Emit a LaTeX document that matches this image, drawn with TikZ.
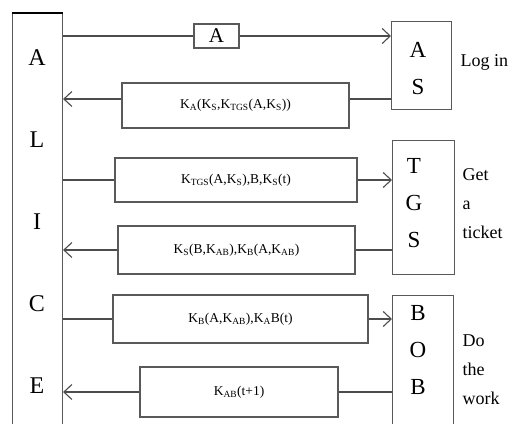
\documentclass[tikz,border=0pt]{standalone}
\usepackage{fontspec}
\setmainfont{Liberation Serif}
\usetikzlibrary{arrows.meta, positioning}
\newcommand{\kk}[1]{K\textsubscript{#1}}

\begin{document}
\begin{tikzpicture}[x=1pt, y=-1pt, >={Straight Barb[length=8pt, width=15pt]}]
  \tikzstyle{box}=[draw=black!65, line width=1.1pt, inner sep=0pt]
  \tikzstyle{msg}=[box, font=\fontsize{13.5}{15}\selectfont]
  \tikzstyle{link}=[draw=black!70, line width=1.1pt]
  \tikzstyle{who}=[font=\fontsize{24}{82}\selectfont, align=center]
  \tikzstyle{srv}=[font=\fontsize{23}{37}\selectfont, align=center]
  \tikzstyle{note}=[font=\fontsize{18}{29}\selectfont, align=left, anchor=west]

  \useasboundingbox (0,0) rectangle (513,423);
  \clip (0,0) rectangle (513,423);

  % Alice on the left
  \node[box, minimum width=50pt, minimum height=425pt, anchor=north west] (alice) at (12,13) {};
  \draw[line width=2.5pt] (alice.north west) -- (alice.north east);
  \node[who] (alicetxt) at (37,222) {A\\L\\I\\C\\E};

  % servers on the right
  \node[box, minimum width=60pt, minimum height=88pt, anchor=north west] (as) at (391,21) {};
  \node[srv] (astxt) at (418,69) {A\\S};
  \node[box, minimum width=62pt, minimum height=134pt, anchor=north west] (tgs) at (392,140) {};
  \node[srv] (tgstxt) at (414,203) {T\\G\\S};
  \node[box, minimum width=61pt, minimum height=140pt, anchor=north west] (bob) at (392,295) {};
  \node[srv] (bobtxt) at (418,350) {B\\O\\B};

  \node[note] (login) at (457,62) {Log in};
  \node[note] (ticket) at (459,204) {Get\\a\\ticket};
  \node[note] (work) at (459,370) {Do\\the\\work};

  % messages
  \node[box, minimum width=45pt, minimum height=24pt, font=\fontsize{21}{21}\selectfont] (ma) at (216.5,36) {A};
  \node[msg, minimum width=227pt, minimum height=45pt] (m1) at (235.5,105.5) {\kk{A}(\kk{S},\kk{TGS}(A,\kk{S}))};
  \node[msg, minimum width=242pt, minimum height=44pt] (m2) at (236,180) {\kk{TGS}(A,\kk{S}),B,\kk{S}(t)};
  \node[msg, minimum width=237pt, minimum height=48pt] (m3) at (236.5,250) {\kk{S}(B,\kk{AB}),\kk{B}(A,\kk{AB})};
  \node[msg, minimum width=255pt, minimum height=48pt] (m4) at (240.5,319) {\kk{B}(A,\kk{AB}),\kk{A}B(t)};
  \node[msg, minimum width=198pt, minimum height=50pt] (m5) at (239,392) {\kk{AB}(t+1)};

  \coordinate (m1l) at ([yshift=6.5pt]m1.west);
  \coordinate (m1r) at ([yshift=6.5pt]m1.east);

  % log in
  \draw[link] (alice.east |- ma.west) -- (ma.west);
  \draw[link, ->] (ma.east) -- (as.west |- ma.east);
  \draw[link] (as.west |- m1r) -- (m1r);
  \draw[link, ->] (m1l) -- (alice.east |- m1l);

  % get a ticket
  \draw[link] (alice.east |- m2.west) -- (m2.west);
  \draw[link, ->] (m2.east) -- (tgs.west |- m2.east);
  \draw[link] (tgs.west |- m3.east) -- (m3.east);
  \draw[link, ->] (m3.west) -- (alice.east |- m3.west);

  % do the work
  \draw[link] (alice.east |- m4.west) -- (m4.west);
  \draw[link, ->] (m4.east) -- (bob.west |- m4.east);
  \draw[link] (bob.west |- m5.east) -- (m5.east);
  \draw[link, ->] (m5.west) -- (alice.east |- m5.west);
\end{tikzpicture}
\end{document}
